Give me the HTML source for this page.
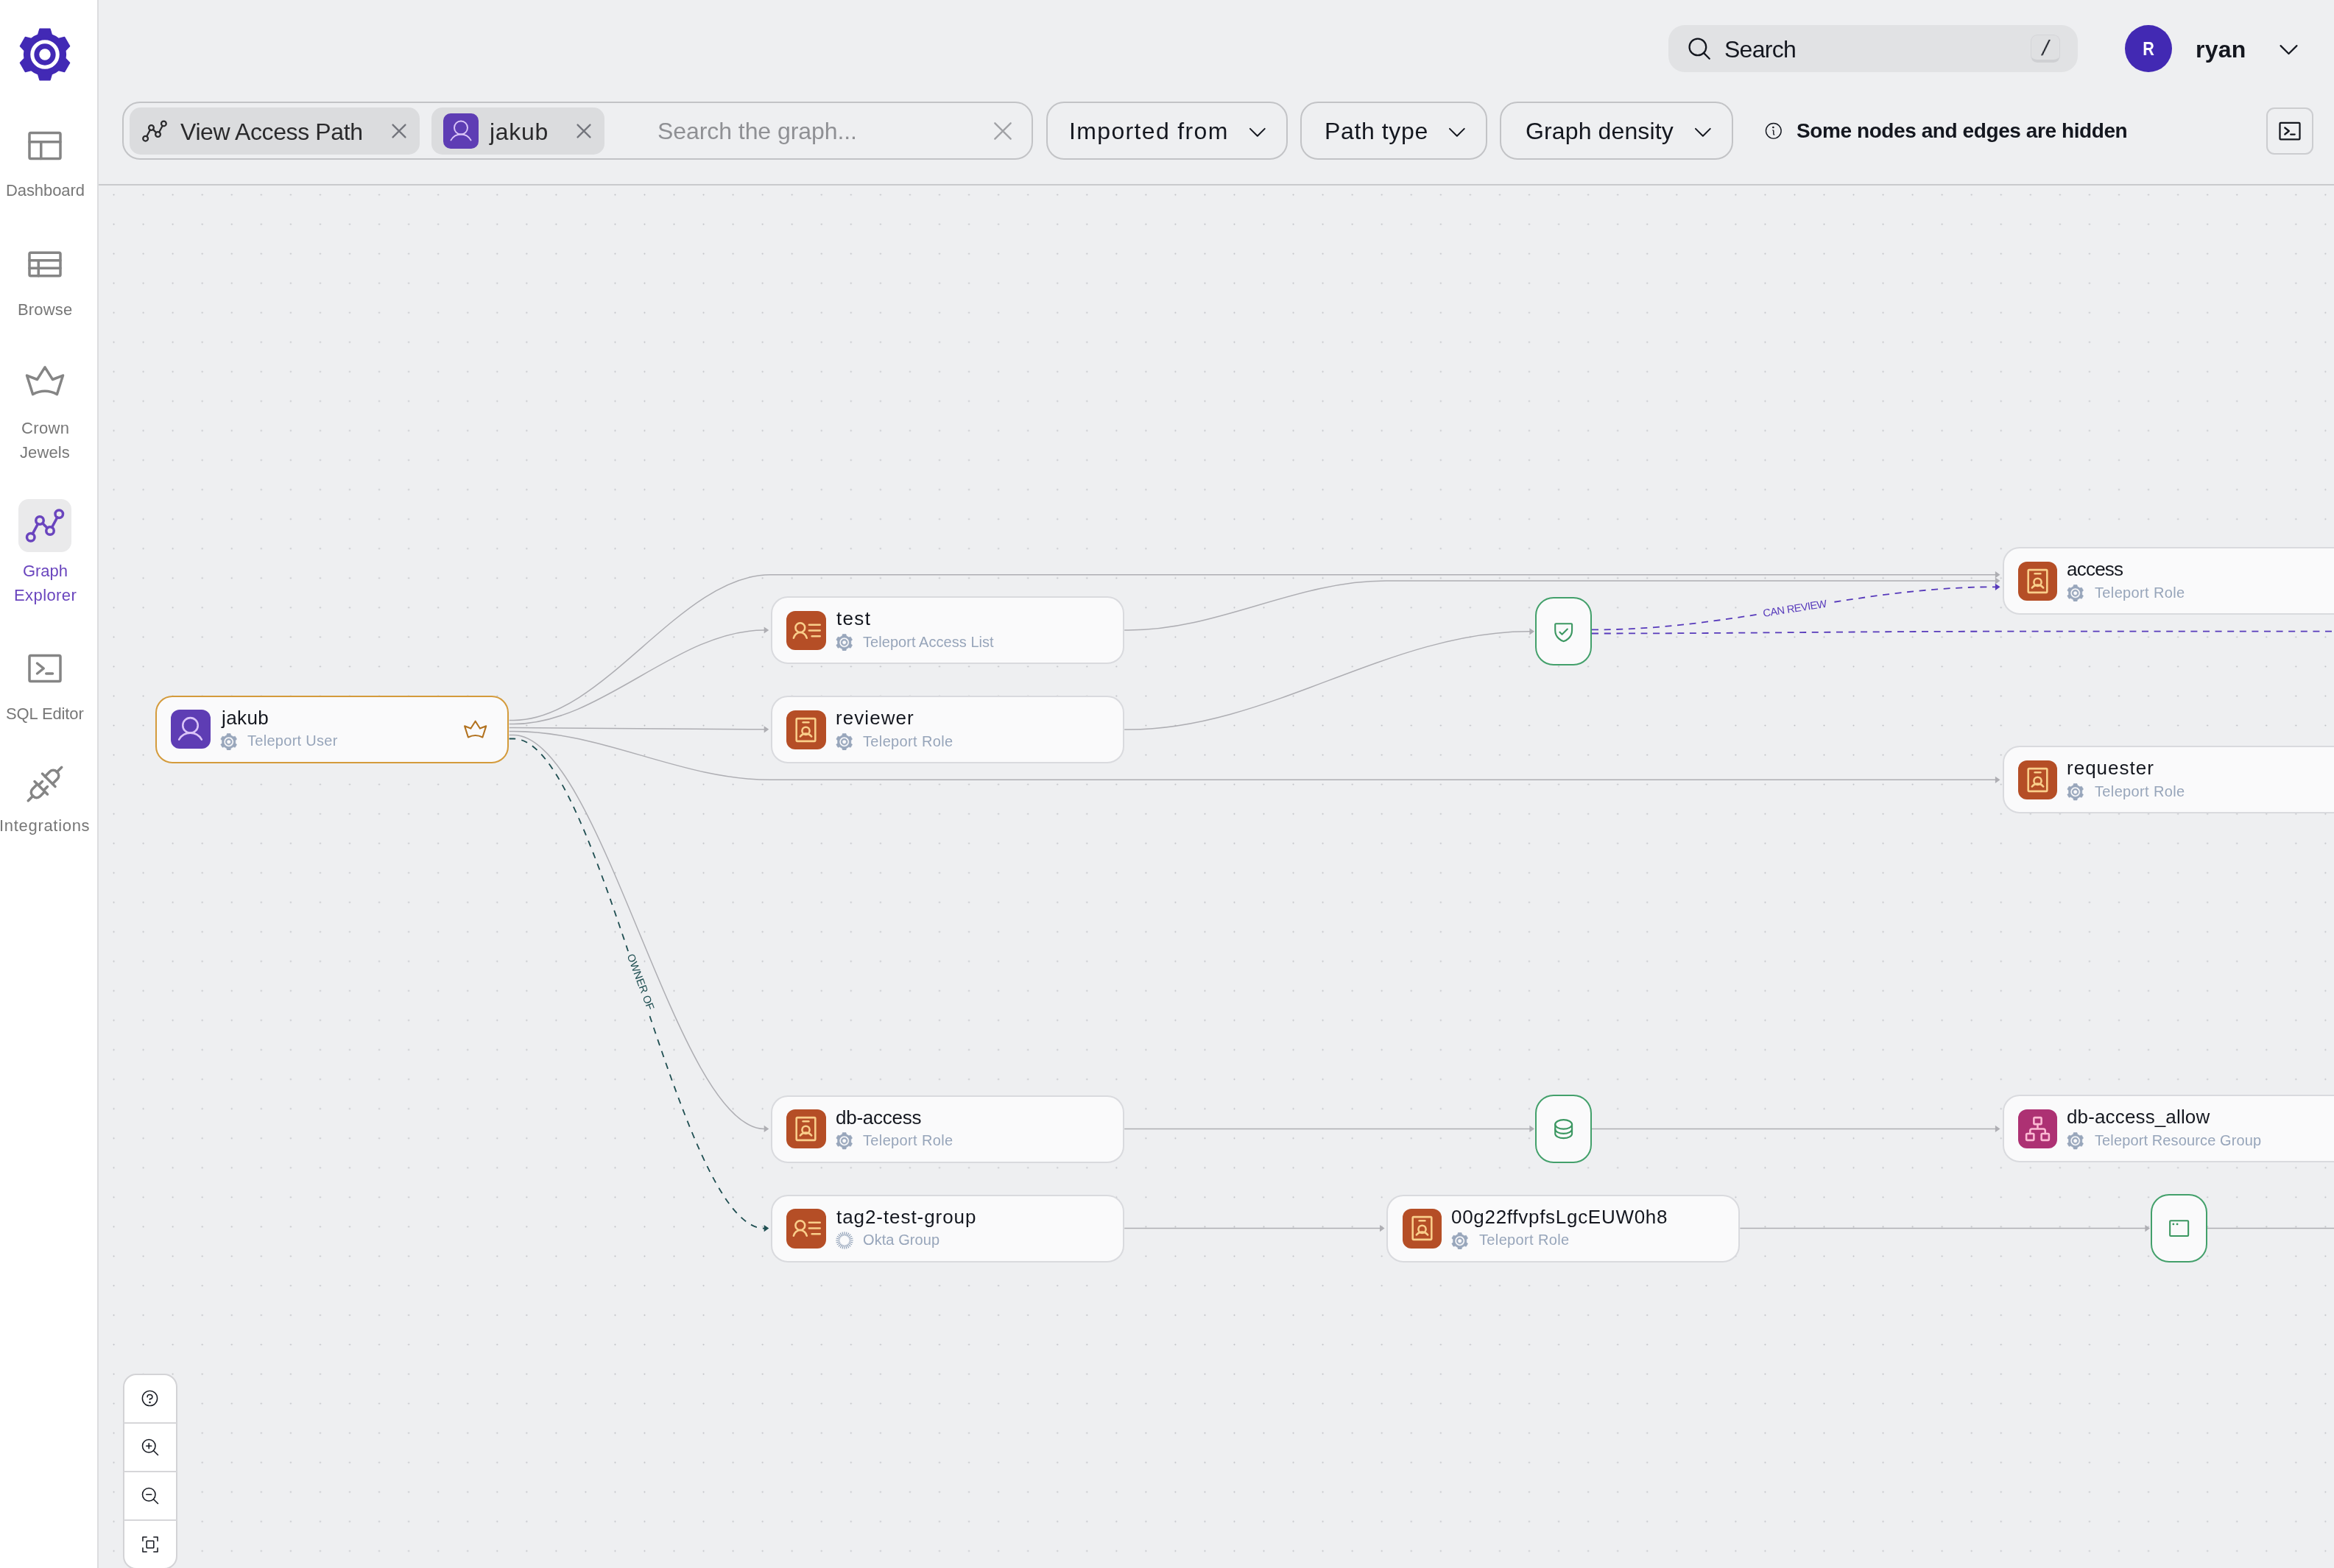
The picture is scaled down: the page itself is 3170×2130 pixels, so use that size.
<!DOCTYPE html>
<html><head><meta charset="utf-8"><title>Graph Explorer</title><style>
html,body{margin:0;padding:0;overflow:hidden}
body{width:3170px;height:2130px;overflow:hidden;background:#EEEFF1;position:relative;font-family:"Liberation Sans",sans-serif}
#sidebar{position:absolute;left:0;top:0;width:132px;height:2130px;background:#fff;border-right:2px solid #DCDDDF}
.t{position:absolute;white-space:nowrap;line-height:1;will-change:transform}
.node{position:absolute;box-sizing:border-box;width:480px;height:92px;border-radius:23px;background:#FAFAFB;border:2px solid #D9DADE}
.snode{position:absolute;box-sizing:border-box;width:76.6px;height:92.8px;border-radius:25px;background:#FAFAFB;border:2px solid #43A06B}
</style></head><body>
<svg width="3170" height="2130" viewBox="0 0 3170 2130" style="position:absolute;left:0;top:0"><defs><pattern id="dots" x="133.6" y="243.6" width="40.05" height="40.05" patternUnits="userSpaceOnUse"><circle cx="21" cy="21" r="1.0" fill="#BBBCC1"/></pattern></defs><rect x="134" y="252" width="3036" height="1878" fill="url(#dots)"/><path d="M691.6,978.5H697.5C819.5,978.5 924.0,780.7 1046.0,780.7H2712" fill="none" stroke="#AEAEB3" stroke-width="1.5"/><path d="M2716.5,780.7l-6.6,-4.6v9.2z" fill="#AEAEB3" stroke="none"/><path d="M691.6,983.5H697.5C816.7,983.5 918.8,856.0 1038.0,856.0H1040" fill="none" stroke="#AEAEB3" stroke-width="1.5"/><path d="M1044.3,856.0l-6.6,-4.6v9.2z" fill="#AEAEB3" stroke="none"/><path d="M691.6,988.5H697.5C816.7,988.5 918.8,990.8 1038.0,990.8H1040" fill="none" stroke="#AEAEB3" stroke-width="1.5"/><path d="M1044.3,990.8l-6.6,-4.6v9.2z" fill="#AEAEB3" stroke="none"/><path d="M691.6,993.5H697.5C819.5,993.5 924.0,1059.3 1046.0,1059.3H2712" fill="none" stroke="#AEAEB3" stroke-width="1.5"/><path d="M2716.5,1059.3l-6.6,-4.6v9.2z" fill="#AEAEB3" stroke="none"/><path d="M691.6,998.5H697.5C816.7,998.5 918.8,1533.4 1038.0,1533.4H1040" fill="none" stroke="#AEAEB3" stroke-width="1.5"/><path d="M1044.3,1533.4l-6.6,-4.6v9.2z" fill="#AEAEB3" stroke="none"/><path d="M691.6,1003.5H697.5C816.7,1003.5 918.8,1668.6 1038.0,1668.6H1040" fill="none" stroke="#1E4E51" stroke-width="1.8" stroke-dasharray="8.6 8.2"/><path d="M1044.3,1668.6l-6.6,-4.6v9.2z" fill="#1E4E51" stroke="none"/><path d="M1527.2,856H1533C1655.2,856.0 1759.8,789.0 1882.0,789.0H2712" fill="none" stroke="#AEAEB3" stroke-width="1.5"/><path d="M2716.5,789.0l-6.6,-4.6v9.2z" fill="#AEAEB3" stroke="none"/><path d="M1527.2,991H1533C1723.0,991.0 1886.0,857.8 2076.0,857.8H2079" fill="none" stroke="#AEAEB3" stroke-width="1.5"/><path d="M2084.0,857.8l-6.6,-4.6v9.2z" fill="#AEAEB3" stroke="none"/><path d="M2162,855.4H2167C2357.1,855.4 2519.9,797.3 2710.0,797.3H2712" fill="none" stroke="#573ABB" stroke-width="1.8" stroke-dasharray="9 7.6"/><path d="M2716.5,797.3l-6.6,-4.6v9.2z" fill="#573ABB" stroke="none"/><path d="M2162,860.5H2167C2359.8,860.5 2525.2,857.7 2718.0,857.7H3170" fill="none" stroke="#573ABB" stroke-width="1.8" stroke-dasharray="9 7.6"/><path d="M1527.2,1533.4H2079" fill="none" stroke="#AEAEB3" stroke-width="1.5"/><path d="M2084.0,1533.4l-6.6,-4.6v9.2z" fill="#AEAEB3" stroke="none"/><path d="M2162,1533.4H2712" fill="none" stroke="#AEAEB3" stroke-width="1.5"/><path d="M2716.5,1533.4l-6.6,-4.6v9.2z" fill="#AEAEB3" stroke="none"/><path d="M1527.2,1668.6H1876" fill="none" stroke="#AEAEB3" stroke-width="1.5"/><path d="M1880.6,1668.6l-6.6,-4.6v9.2z" fill="#AEAEB3" stroke="none"/><path d="M2363.4,1668.6H2915" fill="none" stroke="#AEAEB3" stroke-width="1.5"/><path d="M2920.0,1668.6l-6.6,-4.6v9.2z" fill="#AEAEB3" stroke="none"/><path d="M2998,1668.6H3170" fill="none" stroke="#AEAEB3" stroke-width="1.5"/></svg>
<svg width="3170" height="2130" viewBox="0 0 3170 2130" style="position:absolute;left:0;top:0;will-change:transform"><g transform="translate(2437.8,826.2) rotate(-8.8)"><rect x="-49" y="-9" width="98" height="18" fill="#EEEFF1"/><text x="0" y="5.1" text-anchor="middle" font-family="Liberation Sans, sans-serif" font-size="14.5" fill="#573ABB" textLength="87.5" lengthAdjust="spacing">CAN REVIEW</text></g><g transform="translate(870.4,1333.8) rotate(69.5)"><rect x="-45" y="-9" width="90" height="18" fill="#EEEFF1"/><text x="0" y="5.1" text-anchor="middle" font-family="Liberation Sans, sans-serif" font-size="14.5" fill="#1E4E51" textLength="80" lengthAdjust="spacing">OWNER OF</text></g></svg>
<div class="node" style="left:211.1px;top:944.6px;border-color:#D49B3C"></div><div style="position:absolute;left:232.29999999999998px;top:964.2px;width:53.3px;height:53.3px;border-radius:12px;background:#5E3DB4"></div><svg width="41" height="41" viewBox="0 0 256 256" fill="none" stroke="#DAC4F8" stroke-width="16" stroke-linecap="round" stroke-linejoin="round" style="display:block;position:absolute;left:238.45px;top:970.35px;color:#DAC4F8;"><circle cx="128" cy="96" r="64"/><path d="M32,216c19.4-33.5,54.6-56,96-56s76.6,22.500,96,56"/></svg><div class="t" style="left:300.70px;top:961.69px;font-size:26px;font-weight:400;color:#14171F;letter-spacing:0.401px;">jakub</div><svg width="23.4" height="23.4" viewBox="0 0 100 100" style="display:block;position:absolute;left:298.7px;top:995.5px;"><path d="M37.26,12.93L40.44,1.94L59.56,1.94L62.74,12.93A39.20,39.20 0 0 1 75.74,20.43L86.84,17.70L96.40,34.25L88.48,42.50A39.20,39.20 0 0 1 88.48,57.50L96.40,65.75L86.84,82.30L75.74,79.57A39.20,39.20 0 0 1 62.74,87.07L59.56,98.06L40.44,98.06L37.26,87.07A39.20,39.20 0 0 1 24.26,79.57L13.16,82.30L3.60,65.75L11.52,57.50A39.20,39.20 0 0 1 11.52,42.50L3.60,34.25L13.16,17.70L24.26,20.43A39.20,39.20 0 0 1 37.26,12.93ZM21.34,50a28.66,28.66 0 1 0 57.33,0a28.66,28.66 0 1 0 -57.33,0ZM30.89,50a19.11,19.11 0 1 0 38.22,0a19.11,19.11 0 1 0 -38.22,0ZM38.00,50a12.00,12.00 0 1 0 24.01,0a12.00,12.00 0 1 0 -24.01,0Z" fill="#98A6BB" fill-rule="evenodd" stroke="#98A6BB" stroke-width="2.5" stroke-linejoin="round"/></svg><div class="t" style="left:336.30px;top:996.27px;font-size:20px;font-weight:400;color:#97A5BA;letter-spacing:0.285px;">Teleport User</div><svg width="33.3" height="33.3" viewBox="0 0 256 256" fill="none" stroke="#B2721F" stroke-width="16" stroke-linecap="round" stroke-linejoin="round" style="display:block;position:absolute;left:629.30px;top:974.80px;color:#B2721F;"><path d="M53,204Q128,164 203,204L240,87L176,112L128,36L80,112L16,87Z"/></svg>
<div class="node" style="left:1047.1px;top:810px;border-color:#D9DADE"></div><div style="position:absolute;left:1068.3px;top:829.6px;width:53.3px;height:53.3px;border-radius:12px;background:#B54E26"></div><svg width="41" height="41" viewBox="0 0 256 256" fill="none" stroke="#F9CE8A" stroke-width="16" stroke-linecap="round" stroke-linejoin="round" style="display:block;position:absolute;left:1074.45px;top:835.75px;color:#F9CE8A;"><circle cx="80" cy="104" r="40"/><path d="M24,192c6.500-27.500,29.500-48,56-48s49.500,20.500,56,48"/><path d="M155,80h93M155,128h93M179,176h69"/></svg><div class="t" style="left:1135.70px;top:827.09px;font-size:26px;font-weight:400;color:#14171F;letter-spacing:1.339px;">test</div><svg width="23.4" height="23.4" viewBox="0 0 100 100" style="display:block;position:absolute;left:1134.6999999999998px;top:860.9px;"><path d="M37.26,12.93L40.44,1.94L59.56,1.94L62.74,12.93A39.20,39.20 0 0 1 75.74,20.43L86.84,17.70L96.40,34.25L88.48,42.50A39.20,39.20 0 0 1 88.48,57.50L96.40,65.75L86.84,82.30L75.74,79.57A39.20,39.20 0 0 1 62.74,87.07L59.56,98.06L40.44,98.06L37.26,87.07A39.20,39.20 0 0 1 24.26,79.57L13.16,82.30L3.60,65.75L11.52,57.50A39.20,39.20 0 0 1 11.52,42.50L3.60,34.25L13.16,17.70L24.26,20.43A39.20,39.20 0 0 1 37.26,12.93ZM21.34,50a28.66,28.66 0 1 0 57.33,0a28.66,28.66 0 1 0 -57.33,0ZM30.89,50a19.11,19.11 0 1 0 38.22,0a19.11,19.11 0 1 0 -38.22,0ZM38.00,50a12.00,12.00 0 1 0 24.01,0a12.00,12.00 0 1 0 -24.01,0Z" fill="#98A6BB" fill-rule="evenodd" stroke="#98A6BB" stroke-width="2.5" stroke-linejoin="round"/></svg><div class="t" style="left:1172.30px;top:861.67px;font-size:20px;font-weight:400;color:#97A5BA;letter-spacing:0.048px;">Teleport Access List</div>
<div class="node" style="left:1047.1px;top:945px;border-color:#D9DADE"></div><div style="position:absolute;left:1068.3px;top:964.6px;width:53.3px;height:53.3px;border-radius:12px;background:#B54E26"></div><svg width="41" height="41" viewBox="0 0 256 256" fill="none" stroke="#F9CE8A" stroke-width="16" stroke-linecap="round" stroke-linejoin="round" style="display:block;position:absolute;left:1074.45px;top:970.75px;color:#F9CE8A;"><rect x="48" y="32" width="160" height="192" rx="8"/><path d="M104,64h48"/><circle cx="128" cy="136" r="32"/><path d="M80,184c9.500-12.500,27.500-24,48-24s38.500,11.500,48,24"/></svg><div class="t" style="left:1134.70px;top:962.09px;font-size:26px;font-weight:400;color:#14171F;letter-spacing:1.073px;">reviewer</div><svg width="23.4" height="23.4" viewBox="0 0 100 100" style="display:block;position:absolute;left:1134.6999999999998px;top:995.9px;"><path d="M37.26,12.93L40.44,1.94L59.56,1.94L62.74,12.93A39.20,39.20 0 0 1 75.74,20.43L86.84,17.70L96.40,34.25L88.48,42.50A39.20,39.20 0 0 1 88.48,57.50L96.40,65.75L86.84,82.30L75.74,79.57A39.20,39.20 0 0 1 62.74,87.07L59.56,98.06L40.44,98.06L37.26,87.07A39.20,39.20 0 0 1 24.26,79.57L13.16,82.30L3.60,65.75L11.52,57.50A39.20,39.20 0 0 1 11.52,42.50L3.60,34.25L13.16,17.70L24.26,20.43A39.20,39.20 0 0 1 37.26,12.93ZM21.34,50a28.66,28.66 0 1 0 57.33,0a28.66,28.66 0 1 0 -57.33,0ZM30.89,50a19.11,19.11 0 1 0 38.22,0a19.11,19.11 0 1 0 -38.22,0ZM38.00,50a12.00,12.00 0 1 0 24.01,0a12.00,12.00 0 1 0 -24.01,0Z" fill="#98A6BB" fill-rule="evenodd" stroke="#98A6BB" stroke-width="2.5" stroke-linejoin="round"/></svg><div class="t" style="left:1172.30px;top:996.67px;font-size:20px;font-weight:400;color:#97A5BA;letter-spacing:0.357px;">Teleport Role</div>
<div class="node" style="left:1047.1px;top:1487.5px;border-color:#D9DADE"></div><div style="position:absolute;left:1068.3px;top:1507.1px;width:53.3px;height:53.3px;border-radius:12px;background:#B54E26"></div><svg width="41" height="41" viewBox="0 0 256 256" fill="none" stroke="#F9CE8A" stroke-width="16" stroke-linecap="round" stroke-linejoin="round" style="display:block;position:absolute;left:1074.45px;top:1513.25px;color:#F9CE8A;"><rect x="48" y="32" width="160" height="192" rx="8"/><path d="M104,64h48"/><circle cx="128" cy="136" r="32"/><path d="M80,184c9.500-12.500,27.500-24,48-24s38.500,11.500,48,24"/></svg><div class="t" style="left:1134.70px;top:1504.59px;font-size:26px;font-weight:400;color:#14171F;letter-spacing:-0.250px;">db-access</div><svg width="23.4" height="23.4" viewBox="0 0 100 100" style="display:block;position:absolute;left:1134.6999999999998px;top:1538.4px;"><path d="M37.26,12.93L40.44,1.94L59.56,1.94L62.74,12.93A39.20,39.20 0 0 1 75.74,20.43L86.84,17.70L96.40,34.25L88.48,42.50A39.20,39.20 0 0 1 88.48,57.50L96.40,65.75L86.84,82.30L75.74,79.57A39.20,39.20 0 0 1 62.74,87.07L59.56,98.06L40.44,98.06L37.26,87.07A39.20,39.20 0 0 1 24.26,79.57L13.16,82.30L3.60,65.75L11.52,57.50A39.20,39.20 0 0 1 11.52,42.50L3.60,34.25L13.16,17.70L24.26,20.43A39.20,39.20 0 0 1 37.26,12.93ZM21.34,50a28.66,28.66 0 1 0 57.33,0a28.66,28.66 0 1 0 -57.33,0ZM30.89,50a19.11,19.11 0 1 0 38.22,0a19.11,19.11 0 1 0 -38.22,0ZM38.00,50a12.00,12.00 0 1 0 24.01,0a12.00,12.00 0 1 0 -24.01,0Z" fill="#98A6BB" fill-rule="evenodd" stroke="#98A6BB" stroke-width="2.5" stroke-linejoin="round"/></svg><div class="t" style="left:1172.30px;top:1539.17px;font-size:20px;font-weight:400;color:#97A5BA;letter-spacing:0.357px;">Teleport Role</div>
<div class="node" style="left:1047.1px;top:1622.7px;border-color:#D9DADE"></div><div style="position:absolute;left:1068.3px;top:1642.3px;width:53.3px;height:53.3px;border-radius:12px;background:#B54E26"></div><svg width="41" height="41" viewBox="0 0 256 256" fill="none" stroke="#F9CE8A" stroke-width="16" stroke-linecap="round" stroke-linejoin="round" style="display:block;position:absolute;left:1074.45px;top:1648.45px;color:#F9CE8A;"><circle cx="80" cy="104" r="40"/><path d="M24,192c6.500-27.500,29.500-48,56-48s49.500,20.500,56,48"/><path d="M155,80h93M155,128h93M179,176h69"/></svg><div class="t" style="left:1135.70px;top:1639.79px;font-size:26px;font-weight:400;color:#14171F;letter-spacing:0.938px;">tag2-test-group</div><svg width="24" height="24" viewBox="0 0 100 100" style="display:block;position:absolute;left:1134.5px;top:1672.7px;"><path d="M77.0,50.0L99.0,50.0M76.1,57.0L97.3,62.7M73.4,63.5L92.4,74.5M69.1,69.1L84.6,84.6M63.5,73.4L74.5,92.4M57.0,76.1L62.7,97.3M50.0,77.0L50.0,99.0M43.0,76.1L37.3,97.3M36.5,73.4L25.5,92.4M30.9,69.1L15.4,84.6M26.6,63.5L7.6,74.5M23.9,57.0L2.7,62.7M23.0,50.0L1.0,50.0M23.9,43.0L2.7,37.3M26.6,36.5L7.6,25.5M30.9,30.9L15.4,15.4M36.5,26.6L25.5,7.6M43.0,23.9L37.3,2.7M50.0,23.0L50.0,1.0M57.0,23.9L62.7,2.7M63.5,26.6L74.5,7.6M69.1,30.9L84.6,15.4M73.4,36.5L92.4,25.5M76.1,43.0L97.3,37.3" stroke="#8A9BB3" stroke-width="4.6" fill="none"/></svg><div class="t" style="left:1172.30px;top:1674.37px;font-size:20px;font-weight:400;color:#97A5BA;letter-spacing:0.083px;">Okta Group</div>
<div class="node" style="left:1883.3px;top:1622.7px;border-color:#D9DADE"></div><div style="position:absolute;left:1904.5px;top:1642.3px;width:53.3px;height:53.3px;border-radius:12px;background:#B54E26"></div><svg width="41" height="41" viewBox="0 0 256 256" fill="none" stroke="#F9CE8A" stroke-width="16" stroke-linecap="round" stroke-linejoin="round" style="display:block;position:absolute;left:1910.65px;top:1648.45px;color:#F9CE8A;"><rect x="48" y="32" width="160" height="192" rx="8"/><path d="M104,64h48"/><circle cx="128" cy="136" r="32"/><path d="M80,184c9.500-12.500,27.500-24,48-24s38.500,11.500,48,24"/></svg><div class="t" style="left:1970.90px;top:1639.79px;font-size:26px;font-weight:400;color:#14171F;letter-spacing:0.713px;">00g22ffvpfsLgcEUW0h8</div><svg width="23.4" height="23.4" viewBox="0 0 100 100" style="display:block;position:absolute;left:1970.8999999999999px;top:1673.6000000000001px;"><path d="M37.26,12.93L40.44,1.94L59.56,1.94L62.74,12.93A39.20,39.20 0 0 1 75.74,20.43L86.84,17.70L96.40,34.25L88.48,42.50A39.20,39.20 0 0 1 88.48,57.50L96.40,65.75L86.84,82.30L75.74,79.57A39.20,39.20 0 0 1 62.74,87.07L59.56,98.06L40.44,98.06L37.26,87.07A39.20,39.20 0 0 1 24.26,79.57L13.16,82.30L3.60,65.75L11.52,57.50A39.20,39.20 0 0 1 11.52,42.50L3.60,34.25L13.16,17.70L24.26,20.43A39.20,39.20 0 0 1 37.26,12.93ZM21.34,50a28.66,28.66 0 1 0 57.33,0a28.66,28.66 0 1 0 -57.33,0ZM30.89,50a19.11,19.11 0 1 0 38.22,0a19.11,19.11 0 1 0 -38.22,0ZM38.00,50a12.00,12.00 0 1 0 24.01,0a12.00,12.00 0 1 0 -24.01,0Z" fill="#98A6BB" fill-rule="evenodd" stroke="#98A6BB" stroke-width="2.5" stroke-linejoin="round"/></svg><div class="t" style="left:2008.50px;top:1674.37px;font-size:20px;font-weight:400;color:#97A5BA;letter-spacing:0.357px;">Teleport Role</div>
<div class="node" style="left:2719.5px;top:743px;border-color:#D9DADE"></div><div style="position:absolute;left:2740.7px;top:762.6px;width:53.3px;height:53.3px;border-radius:12px;background:#B54E26"></div><svg width="41" height="41" viewBox="0 0 256 256" fill="none" stroke="#F9CE8A" stroke-width="16" stroke-linecap="round" stroke-linejoin="round" style="display:block;position:absolute;left:2746.85px;top:768.75px;color:#F9CE8A;"><rect x="48" y="32" width="160" height="192" rx="8"/><path d="M104,64h48"/><circle cx="128" cy="136" r="32"/><path d="M80,184c9.500-12.500,27.500-24,48-24s38.500,11.500,48,24"/></svg><div class="t" style="left:2807.10px;top:760.09px;font-size:26px;font-weight:400;color:#14171F;letter-spacing:-0.764px;">access</div><svg width="23.4" height="23.4" viewBox="0 0 100 100" style="display:block;position:absolute;left:2807.1px;top:793.9px;"><path d="M37.26,12.93L40.44,1.94L59.56,1.94L62.74,12.93A39.20,39.20 0 0 1 75.74,20.43L86.84,17.70L96.40,34.25L88.48,42.50A39.20,39.20 0 0 1 88.48,57.50L96.40,65.75L86.84,82.30L75.74,79.57A39.20,39.20 0 0 1 62.74,87.07L59.56,98.06L40.44,98.06L37.26,87.07A39.20,39.20 0 0 1 24.26,79.57L13.16,82.30L3.60,65.75L11.52,57.50A39.20,39.20 0 0 1 11.52,42.50L3.60,34.25L13.16,17.70L24.26,20.43A39.20,39.20 0 0 1 37.26,12.93ZM21.34,50a28.66,28.66 0 1 0 57.33,0a28.66,28.66 0 1 0 -57.33,0ZM30.89,50a19.11,19.11 0 1 0 38.22,0a19.11,19.11 0 1 0 -38.22,0ZM38.00,50a12.00,12.00 0 1 0 24.01,0a12.00,12.00 0 1 0 -24.01,0Z" fill="#98A6BB" fill-rule="evenodd" stroke="#98A6BB" stroke-width="2.5" stroke-linejoin="round"/></svg><div class="t" style="left:2844.70px;top:794.67px;font-size:20px;font-weight:400;color:#97A5BA;letter-spacing:0.357px;">Teleport Role</div>
<div class="node" style="left:2719.5px;top:1013.3px;border-color:#D9DADE"></div><div style="position:absolute;left:2740.7px;top:1032.8999999999999px;width:53.3px;height:53.3px;border-radius:12px;background:#B54E26"></div><svg width="41" height="41" viewBox="0 0 256 256" fill="none" stroke="#F9CE8A" stroke-width="16" stroke-linecap="round" stroke-linejoin="round" style="display:block;position:absolute;left:2746.85px;top:1039.05px;color:#F9CE8A;"><rect x="48" y="32" width="160" height="192" rx="8"/><path d="M104,64h48"/><circle cx="128" cy="136" r="32"/><path d="M80,184c9.500-12.500,27.500-24,48-24s38.500,11.500,48,24"/></svg><div class="t" style="left:2807.10px;top:1030.39px;font-size:26px;font-weight:400;color:#14171F;letter-spacing:1.015px;">requester</div><svg width="23.4" height="23.4" viewBox="0 0 100 100" style="display:block;position:absolute;left:2807.1px;top:1064.2px;"><path d="M37.26,12.93L40.44,1.94L59.56,1.94L62.74,12.93A39.20,39.20 0 0 1 75.74,20.43L86.84,17.70L96.40,34.25L88.48,42.50A39.20,39.20 0 0 1 88.48,57.50L96.40,65.75L86.84,82.30L75.74,79.57A39.20,39.20 0 0 1 62.74,87.07L59.56,98.06L40.44,98.06L37.26,87.07A39.20,39.20 0 0 1 24.26,79.57L13.16,82.30L3.60,65.75L11.52,57.50A39.20,39.20 0 0 1 11.52,42.50L3.60,34.25L13.16,17.70L24.26,20.43A39.20,39.20 0 0 1 37.26,12.93ZM21.34,50a28.66,28.66 0 1 0 57.33,0a28.66,28.66 0 1 0 -57.33,0ZM30.89,50a19.11,19.11 0 1 0 38.22,0a19.11,19.11 0 1 0 -38.22,0ZM38.00,50a12.00,12.00 0 1 0 24.01,0a12.00,12.00 0 1 0 -24.01,0Z" fill="#98A6BB" fill-rule="evenodd" stroke="#98A6BB" stroke-width="2.5" stroke-linejoin="round"/></svg><div class="t" style="left:2844.70px;top:1064.97px;font-size:20px;font-weight:400;color:#97A5BA;letter-spacing:0.357px;">Teleport Role</div>
<div class="node" style="left:2719.5px;top:1487.4px;border-color:#D9DADE"></div><div style="position:absolute;left:2740.7px;top:1507.0px;width:53.3px;height:53.3px;border-radius:12px;background:#AD3173"></div><svg width="41" height="41" viewBox="0 0 256 256" fill="none" stroke="#FBB9D3" stroke-width="16" stroke-linecap="round" stroke-linejoin="round" style="display:block;position:absolute;left:2746.85px;top:1513.15px;color:#FBB9D3;"><rect x="96" y="32" width="64" height="56" rx="8"/><rect x="32" y="168" width="64" height="56" rx="8"/><rect x="160" y="168" width="64" height="56" rx="8"/><path d="M128,88v40M64,168v-24a16,16,0,0,1,16-16h96a16,16,0,0,1,16,16v24"/></svg><div class="t" style="left:2807.10px;top:1504.49px;font-size:26px;font-weight:400;color:#14171F;letter-spacing:0.141px;">db-access_allow</div><svg width="23.4" height="23.4" viewBox="0 0 100 100" style="display:block;position:absolute;left:2807.1px;top:1538.3000000000002px;"><path d="M37.26,12.93L40.44,1.94L59.56,1.94L62.74,12.93A39.20,39.20 0 0 1 75.74,20.43L86.84,17.70L96.40,34.25L88.48,42.50A39.20,39.20 0 0 1 88.48,57.50L96.40,65.75L86.84,82.30L75.74,79.57A39.20,39.20 0 0 1 62.74,87.07L59.56,98.06L40.44,98.06L37.26,87.07A39.20,39.20 0 0 1 24.26,79.57L13.16,82.30L3.60,65.75L11.52,57.50A39.20,39.20 0 0 1 11.52,42.50L3.60,34.25L13.16,17.70L24.26,20.43A39.20,39.20 0 0 1 37.26,12.93ZM21.34,50a28.66,28.66 0 1 0 57.33,0a28.66,28.66 0 1 0 -57.33,0ZM30.89,50a19.11,19.11 0 1 0 38.22,0a19.11,19.11 0 1 0 -38.22,0ZM38.00,50a12.00,12.00 0 1 0 24.01,0a12.00,12.00 0 1 0 -24.01,0Z" fill="#98A6BB" fill-rule="evenodd" stroke="#98A6BB" stroke-width="2.5" stroke-linejoin="round"/></svg><div class="t" style="left:2844.70px;top:1539.07px;font-size:20px;font-weight:400;color:#97A5BA;letter-spacing:0.122px;">Teleport Resource Group</div>
<div class="snode" style="left:2085.2px;top:811.2px"></div><svg width="33.3" height="33.3" viewBox="0 0 256 256" fill="none" stroke="#3B9761" stroke-width="16" stroke-linecap="round" stroke-linejoin="round" style="display:block;position:absolute;left:2106.85px;top:840.95px;color:#3B9761;"><path d="M40,114.800V56a8,8,0,0,1,8-8H208a8,8,0,0,1,8,8v58.800c0,84-71.300,111.800-85.500,116.500a7.200,7.200,0,0,1-5,0C111.300,226.600,40,198.800,40,114.800Z"/><path d="M88,136l24,24,56-56"/></svg>
<div class="snode" style="left:2085.2px;top:1487.2px"></div><svg width="33.3" height="33.3" viewBox="0 0 256 256" fill="none" stroke="#3B9761" stroke-width="16" stroke-linecap="round" stroke-linejoin="round" style="display:block;position:absolute;left:2106.85px;top:1516.95px;color:#3B9761;"><ellipse cx="128" cy="80" rx="88" ry="48"/><path d="M40,80v48c0,26.500,39.400,48,88,48s88-21.500,88-48V80"/><path d="M40,128v48c0,26.500,39.400,48,88,48s88-21.500,88-48V128"/></svg>
<div class="snode" style="left:2921.2px;top:1622.2px"></div><svg width="33.3" height="33.3" viewBox="0 0 256 256" fill="none" stroke="#3B9761" stroke-width="16" stroke-linecap="round" stroke-linejoin="round" style="display:block;position:absolute;left:2942.85px;top:1651.95px;color:#3B9761;"><rect x="32" y="48" width="192" height="160" rx="8"/><circle cx="68" cy="84" r="11" fill="currentColor" stroke="none"/><circle cx="108" cy="84" r="11" fill="currentColor" stroke="none"/></svg>
<div id="sidebar"></div>
<svg width="72" height="72" viewBox="0 0 100 100" style="display:block;position:absolute;left:24.8px;top:37.9px;"><path d="M37.26,12.93L40.44,1.94L59.56,1.94L62.74,12.93A39.20,39.20 0 0 1 75.74,20.43L86.84,17.70L96.40,34.25L88.48,42.50A39.20,39.20 0 0 1 88.48,57.50L96.40,65.75L86.84,82.30L75.74,79.57A39.20,39.20 0 0 1 62.74,87.07L59.56,98.06L40.44,98.06L37.26,87.07A39.20,39.20 0 0 1 24.26,79.57L13.16,82.30L3.60,65.75L11.52,57.50A39.20,39.20 0 0 1 11.52,42.50L3.60,34.25L13.16,17.70L24.26,20.43A39.20,39.20 0 0 1 37.26,12.93ZM21.34,50a28.66,28.66 0 1 0 57.33,0a28.66,28.66 0 1 0 -57.33,0ZM30.89,50a19.11,19.11 0 1 0 38.22,0a19.11,19.11 0 1 0 -38.22,0ZM38.00,50a12.00,12.00 0 1 0 24.01,0a12.00,12.00 0 1 0 -24.01,0Z" fill="#4229B5" fill-rule="evenodd" stroke="#4229B5" stroke-width="2.5" stroke-linejoin="round"/></svg>
<svg width="56" height="56" viewBox="0 0 256 256" fill="none" stroke="#858585" stroke-width="16" stroke-linecap="round" stroke-linejoin="round" style="display:block;position:absolute;left:33.00px;top:170.10px;color:#858585;"><rect x="32" y="48" width="192" height="160" rx="8"/><path d="M104,104V208M32,104H224"/></svg>
<div class="t" style="left:7.70px;top:248.08px;font-size:22px;font-weight:400;color:#777777;letter-spacing:-0.086px;">Dashboard</div>
<svg width="56" height="56" viewBox="0 0 256 256" fill="none" stroke="#858585" stroke-width="16" stroke-linecap="round" stroke-linejoin="round" style="display:block;position:absolute;left:33.00px;top:330.80px;color:#858585;"><rect x="32" y="56" width="192" height="144" rx="8"/><path d="M32,104H224M32,152H224M88,104v96"/></svg>
<div class="t" style="left:23.50px;top:409.68px;font-size:22px;font-weight:400;color:#777777;letter-spacing:0.175px;">Browse</div>
<svg width="56" height="56" viewBox="0 0 256 256" fill="none" stroke="#858585" stroke-width="16" stroke-linecap="round" stroke-linejoin="round" style="display:block;position:absolute;left:33.00px;top:490.80px;color:#858585;"><path d="M53,204Q128,164 203,204L240,87L176,112L128,36L80,112L16,87Z"/></svg>
<div class="t" style="left:28.50px;top:570.88px;font-size:22px;font-weight:400;color:#777777;letter-spacing:0.341px;">Crown</div>
<div class="t" style="left:27.20px;top:603.68px;font-size:22px;font-weight:400;color:#777777;letter-spacing:0.091px;">Jewels</div>
<div style="position:absolute;left:25px;top:678px;width:72px;height:72px;border-radius:14px;background:#EAEAEB"></div>
<svg width="56" height="56" viewBox="0 0 256 256" fill="none" stroke="#6A45BE" stroke-width="16" stroke-linecap="round" stroke-linejoin="round" style="display:block;position:absolute;left:33.00px;top:686.00px;color:#6A45BE;"><circle cx="40" cy="200" r="24"/><circle cx="96" cy="96" r="24"/><circle cx="160" cy="160" r="24"/><circle cx="216" cy="56" r="24"/><path d="M51.4,178.9L84.6,117.1M113.0,113.0L143.0,143.0M171.4,138.9L204.6,77.1"/></svg>
<div class="t" style="left:30.70px;top:764.68px;font-size:22px;font-weight:400;color:#6A45BE;letter-spacing:-0.052px;">Graph</div>
<div class="t" style="left:18.60px;top:797.68px;font-size:22px;font-weight:400;color:#6A45BE;letter-spacing:0.415px;">Explorer</div>
<svg width="56" height="56" viewBox="0 0 256 256" fill="none" stroke="#858585" stroke-width="16" stroke-linecap="round" stroke-linejoin="round" style="display:block;position:absolute;left:33.00px;top:880.00px;color:#858585;"><rect x="32" y="48" width="192" height="160" rx="8"/><path d="M80,96l40,32-40,32M136,160h40"/></svg>
<div class="t" style="left:7.50px;top:958.88px;font-size:22px;font-weight:400;color:#777777;letter-spacing:-0.109px;">SQL Editor</div>
<svg width="56" height="56" viewBox="0 0 256 256" fill="none" stroke="#858585" stroke-width="16" stroke-linecap="round" stroke-linejoin="round" style="display:block;position:absolute;left:32.90px;top:1037.00px;color:#858585;"><path d="M232,24L202,54M112,64L192,144M54,202L24,232M64,112L144,192M88,136L112,112M120,168L144,144"/><g transform="translate(152,104) rotate(-45)"><path d="M0,-33H42a30,30 0 0 1 30,30V3a30,30 0 0 1 -30,30H0"/></g><g transform="translate(104,152) rotate(135)"><path d="M0,-33H42a30,30 0 0 1 30,30V3a30,30 0 0 1 -30,30H0"/></g></svg>
<div class="t" style="left:-0.90px;top:1111.38px;font-size:22px;font-weight:400;color:#777777;letter-spacing:0.694px;">Integrations</div>
<div style="position:absolute;left:2265.8px;top:34px;width:556.2px;height:63.8px;border-radius:22px;background:#E1E2E4"></div>
<svg width="36.3" height="36.3" viewBox="0 0 256 256" fill="none" stroke="#14171F" stroke-width="16" stroke-linecap="round" stroke-linejoin="round" style="display:block;position:absolute;left:2290.10px;top:47.80px;color:#14171F;"><circle cx="112" cy="112" r="80"/><path d="M168.600,168.600L224,224"/></svg>
<div class="t" style="left:2341.50px;top:51.21px;font-size:32px;font-weight:400;color:#14171F;letter-spacing:-0.719px;">Search</div>
<div style="position:absolute;left:2757.8px;top:47px;width:40px;height:37.8px;box-sizing:border-box;border-radius:9px;background:#DFE0E2;border:1.5px solid #D4D5D8;border-bottom:4.5px solid #CFD0D3"></div>
<div class="t" style="left:2771.50px;top:51.50px;font-size:28px;font-weight:400;color:#14171F;letter-spacing:0.000px;transform:skewX(-13deg);transform-origin:0 85%;">/</div>
<div style="position:absolute;left:2886px;top:33.8px;width:64px;height:64px;border-radius:50%;background:#4229B3"></div>
<div class="t" style="left:2910.00px;top:53.94px;font-size:25px;font-weight:700;color:#FFFFFF;letter-spacing:0.000px;transform:scaleX(0.86);transform-origin:2px 50%;">R</div>
<div class="t" style="left:2981.70px;top:50.81px;font-size:32px;font-weight:700;color:#14171F;letter-spacing:0.218px;">ryan</div>
<svg width="35" height="35" viewBox="0 0 256 256" fill="none" stroke="#14171F" stroke-width="16" stroke-linecap="round" stroke-linejoin="round" style="display:block;position:absolute;left:3090.60px;top:48.60px;color:#14171F;"><path d="M208,96l-80,80L48,96"/></svg>
<div style="position:absolute;box-sizing:border-box;left:166.2px;top:138.4px;width:1237.1px;height:78.9px;border-radius:24px;background:transparent;border:2px solid #C2C3C6;"></div>
<div style="position:absolute;box-sizing:border-box;left:176px;top:146px;width:394.0px;height:63.7px;border-radius:15px;background:#DBDCDE;"></div>
<svg width="36" height="36" viewBox="0 0 256 256" fill="none" stroke="#2A2A2C" stroke-width="16" stroke-linecap="round" stroke-linejoin="round" style="display:block;position:absolute;left:191.90px;top:159.70px;color:#2A2A2C;"><circle cx="40" cy="200" r="24"/><circle cx="96" cy="96" r="24"/><circle cx="160" cy="160" r="24"/><circle cx="216" cy="56" r="24"/><path d="M51.4,178.9L84.6,117.1M113.0,113.0L143.0,143.0M171.4,138.9L204.6,77.1"/></svg>
<div class="t" style="left:244.80px;top:162.91px;font-size:32px;font-weight:400;color:#2A2A2C;letter-spacing:-0.382px;">View Access Path</div>
<svg width="30" height="30" viewBox="0 0 256 256" fill="none" stroke="#74767D" stroke-width="20" stroke-linecap="round" stroke-linejoin="round" style="display:block;position:absolute;left:527.30px;top:163.00px;color:#74767D;"><path d="M200,56L56,200M200,200L56,56"/></svg>
<div style="position:absolute;box-sizing:border-box;left:586.3px;top:146px;width:234.7px;height:63.9px;border-radius:15px;background:#DBDCDE;"></div>
<div style="position:absolute;box-sizing:border-box;left:602.2px;top:154px;width:48.0px;height:48.0px;border-radius:10px;background:#5E3DB4;"></div>
<svg width="36" height="36" viewBox="0 0 256 256" fill="none" stroke="#DAC4F8" stroke-width="14" stroke-linecap="round" stroke-linejoin="round" style="display:block;position:absolute;left:608.20px;top:160.00px;color:#DAC4F8;"><circle cx="128" cy="96" r="64"/><path d="M32,216c19.4-33.5,54.6-56,96-56s76.6,22.500,96,56"/></svg>
<div class="t" style="left:665.00px;top:162.51px;font-size:32px;font-weight:400;color:#2A2A2C;letter-spacing:0.724px;">jakub</div>
<svg width="30" height="30" viewBox="0 0 256 256" fill="none" stroke="#74767D" stroke-width="20" stroke-linecap="round" stroke-linejoin="round" style="display:block;position:absolute;left:778.00px;top:163.00px;color:#74767D;"><path d="M200,56L56,200M200,200L56,56"/></svg>
<div class="t" style="left:892.80px;top:162.31px;font-size:32px;font-weight:400;color:#8F9094;letter-spacing:-0.066px;">Search the graph...</div>
<svg width="38" height="38" viewBox="0 0 256 256" fill="none" stroke="#A1A2A6" stroke-width="16" stroke-linecap="round" stroke-linejoin="round" style="display:block;position:absolute;left:1343.00px;top:159.20px;color:#A1A2A6;"><path d="M200,56L56,200M200,200L56,56"/></svg>
<div style="position:absolute;box-sizing:border-box;left:1420.5px;top:138.4px;width:328.9px;height:78.9px;border-radius:24px;background:transparent;border:2px solid #C2C3C6;"></div>
<div class="t" style="left:1452.30px;top:162.31px;font-size:32px;font-weight:400;color:#14171F;letter-spacing:1.349px;">Imported from</div>
<svg width="31.7" height="31.7" viewBox="0 0 256 256" fill="none" stroke="#14171F" stroke-width="16" stroke-linecap="round" stroke-linejoin="round" style="display:block;position:absolute;left:1692.05px;top:162.70px;color:#14171F;"><path d="M208,96l-80,80L48,96"/></svg>
<div style="position:absolute;box-sizing:border-box;left:1766.3px;top:138.4px;width:254.2px;height:78.9px;border-radius:24px;background:transparent;border:2px solid #C2C3C6;"></div>
<div class="t" style="left:1798.80px;top:162.31px;font-size:32px;font-weight:400;color:#14171F;letter-spacing:0.624px;">Path type</div>
<svg width="31.7" height="31.7" viewBox="0 0 256 256" fill="none" stroke="#14171F" stroke-width="16" stroke-linecap="round" stroke-linejoin="round" style="display:block;position:absolute;left:1962.95px;top:162.70px;color:#14171F;"><path d="M208,96l-80,80L48,96"/></svg>
<div style="position:absolute;box-sizing:border-box;left:2037.3px;top:138.4px;width:317.2px;height:78.9px;border-radius:24px;background:transparent;border:2px solid #C2C3C6;"></div>
<div class="t" style="left:2071.50px;top:162.31px;font-size:32px;font-weight:400;color:#14171F;letter-spacing:0.123px;">Graph density</div>
<svg width="31.7" height="31.7" viewBox="0 0 256 256" fill="none" stroke="#14171F" stroke-width="16" stroke-linecap="round" stroke-linejoin="round" style="display:block;position:absolute;left:2296.95px;top:162.70px;color:#14171F;"><path d="M208,96l-80,80L48,96"/></svg>
<svg width="27.6" height="27.6" viewBox="0 0 256 256" fill="none" stroke="#14171F" stroke-width="13" stroke-linecap="round" stroke-linejoin="round" style="display:block;position:absolute;left:2395.10px;top:164.10px;color:#14171F;"><circle cx="128" cy="128" r="96"/><path d="M120,120a8,8,0,0,1,8,8v40a8,8,0,0,0,8,8"/><circle cx="124" cy="84" r="12" fill="currentColor" stroke="none"/></svg>
<div class="t" style="left:2439.80px;top:164.10px;font-size:28px;font-weight:700;color:#14171F;letter-spacing:-0.414px;">Some nodes and edges are hidden</div>
<div style="position:absolute;box-sizing:border-box;left:3078.3px;top:146.1px;width:63.7px;height:64.1px;border-radius:11px;background:transparent;border:2px solid #CCCDD0;"></div>
<svg width="36" height="36" viewBox="0 0 256 256" fill="none" stroke="#14171F" stroke-width="16" stroke-linecap="round" stroke-linejoin="round" style="display:block;position:absolute;left:3092.00px;top:160.00px;color:#14171F;"><rect x="32" y="48" width="192" height="160" rx="8"/><path d="M80,96l40,32-40,32M136,160h40"/></svg>
<div style="position:absolute;left:134px;top:249.8px;width:3036px;height:2px;background:#C9CACD"></div>
<div style="position:absolute;box-sizing:border-box;left:166.8px;top:1866.4px;width:74.4px;height:266.1px;border-radius:18px;background:#FFFFFF;border:2px solid #D3D3D6;"></div><div style="position:absolute;left:168px;top:1931.5px;width:72px;height:2px;background:#D6D6D9"></div><div style="position:absolute;left:168px;top:1998px;width:72px;height:2px;background:#D6D6D9"></div><div style="position:absolute;left:168px;top:2064px;width:72px;height:2px;background:#D6D6D9"></div><svg width="27" height="27" viewBox="0 0 256 256" fill="none" stroke="#14171F" stroke-width="14" stroke-linecap="round" stroke-linejoin="round" style="display:block;position:absolute;left:190.30px;top:1886.20px;color:#14171F;"><circle cx="128" cy="128" r="96"/><circle cx="128" cy="180" r="12" fill="currentColor" stroke="none"/><path d="M128,144v-8c17.700,0,32-12.500,32-28s-14.300-28-32-28S96,92.500,96,108v4"/></svg><svg width="28" height="28" viewBox="0 0 256 256" fill="none" stroke="#14171F" stroke-width="14" stroke-linecap="round" stroke-linejoin="round" style="display:block;position:absolute;left:190.10px;top:1952.40px;color:#14171F;"><circle cx="112" cy="112" r="80"/><path d="M168.600,168.600L224,224"/><path d="M80,112h64M112,80v64"/></svg><svg width="28" height="28" viewBox="0 0 256 256" fill="none" stroke="#14171F" stroke-width="14" stroke-linecap="round" stroke-linejoin="round" style="display:block;position:absolute;left:190.10px;top:2017.90px;color:#14171F;"><circle cx="112" cy="112" r="80"/><path d="M168.600,168.600L224,224"/><path d="M80,112h64"/></svg><svg width="28" height="28" viewBox="0 0 256 256" fill="none" stroke="#14171F" stroke-width="14" stroke-linecap="round" stroke-linejoin="round" style="display:block;position:absolute;left:190.20px;top:2083.90px;color:#14171F;"><path d="M172,36h48v48M84,220H36V172M220,172v48H172M36,84V36H84"/><rect x="84" y="84" width="88" height="88" rx="6"/></svg>
</body></html>
